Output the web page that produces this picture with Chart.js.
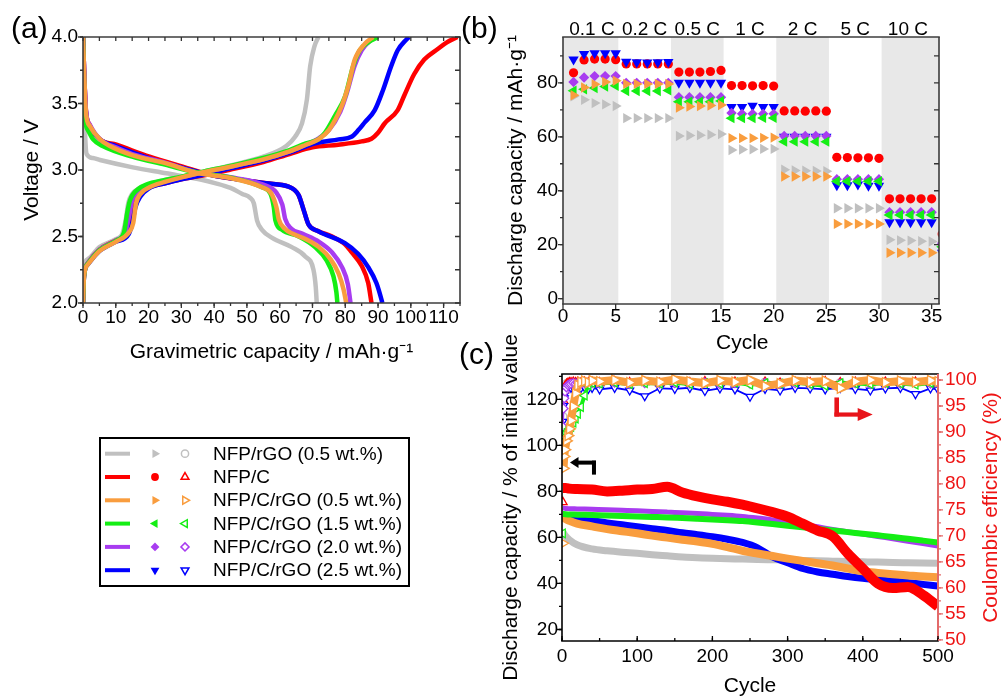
<!DOCTYPE html>
<html lang="en">
<head>
<meta charset="UTF-8">
<title>NFP electrochemistry</title>
<script src="https://cdn.jsdelivr.net/npm/chart.js"></script>
<style>
  html, body { margin: 0; padding: 0; background: #fff; }
  #fig { position: relative; width: 1003px; height: 697px; overflow: hidden; font-family: "Liberation Sans", Arial, sans-serif; color: #000; }
  #fig > canvas { position: absolute; }
  .tag { position: absolute; font-size: 30px; line-height: 30px; }
  #legend { position: absolute; left: 99px; top: 437px; width: 307px; height: 146px; border: 2px solid #000; }
  #legend canvas { position: absolute; left: 0; top: 0; }
  #legend .row { position: absolute; left: 112px; font-size: 19px; line-height: 22px; white-space: nowrap; }
</style>
</head>
<body>
<div id="fig">
  <canvas id="chartA" width="470" height="370" style="left:0;top:0;width:470px;height:370px"></canvas>
  <canvas id="chartB" width="533" height="360" style="left:470px;top:0;width:533px;height:360px"></canvas>
  <canvas id="chartC" width="533" height="390" style="left:470px;top:320px;width:533px;height:390px"></canvas>
  <div class="tag" style="left:11px;top:13px">(a)</div>
  <div class="tag" style="left:461px;top:13px">(b)</div>
  <div class="tag" style="left:459px;top:339px">(c)</div>
  <div id="legend"><canvas id="legendMarks" width="307" height="146"></canvas></div>
</div>

<script>
// ---- series ----
const seriesNames = ['NFP/rGO (0.5 wt.%)', 'NFP/C', 'NFP/C/rGO (0.5 wt.%)', 'NFP/C/rGO (1.5 wt.%)', 'NFP/C/rGO (2.0 wt.%)', 'NFP/C/rGO (2.5 wt.%)'];

// ---- (a) charge / discharge profiles: [capacity mAh/g, voltage V] ----
const chgGray = [[0,2.0],[0.2,2.25],[1.5,2.33],[5,2.42],[10,2.48],[12,2.52],[13,2.62],[13.8,2.75],[15,2.82],[17,2.86],[20,2.89],[25,2.925],[30,2.95],[37,2.99],[45,3.035],[55,3.1],[62,3.18],[64.7,3.25],[66.8,3.35],[68.3,3.53],[69.3,3.78],[70.6,3.93],[71.8,4.0]];
const disGray = [[0,4.0],[0.3,3.6],[0.6,3.3],[1.1,3.12],[3,3.09],[5.2,3.075],[15.2,3.02],[25.4,2.975],[35.5,2.93],[40.5,2.9],[45,2.865],[48.6,2.82],[51,2.79],[52.1,2.75],[53.1,2.62],[54.6,2.55],[57.7,2.49],[63.7,2.42],[67.8,2.35],[70.3,2.25],[71,2.12],[71.3,2.0]];
const chgRed = [[0,2.0],[0.3,2.2],[1.5,2.3],[5,2.4],[10,2.47],[13.5,2.53],[14.5,2.62],[15.5,2.73],[17,2.81],[20,2.865],[25,2.9],[30,2.93],[37,2.96],[44.5,3.0],[55,3.06],[63,3.12],[70,3.17],[77.9,3.19],[85,3.215],[88,3.235],[90,3.28],[92,3.35],[96,3.45],[98,3.56],[101,3.72],[104.1,3.83],[108.2,3.91],[111,3.96],[114.2,4.0]];
const disRed = [[0,4.0],[0.4,3.7],[0.9,3.45],[2,3.34],[5.2,3.23],[10.2,3.19],[20.3,3.1],[30.4,3.025],[39.5,2.96],[50,2.92],[56,2.9],[62.7,2.875],[64.5,2.85],[65.8,2.81],[67.3,2.7],[68.8,2.59],[71.8,2.54],[76,2.5],[80,2.44],[82,2.38],[85,2.28],[87,2.15],[88,2.0]];
const chgOrange = [[0,2.0],[0.3,2.2],[1.5,2.29],[5,2.39],[10,2.46],[14,2.53],[15.3,2.6],[16.2,2.75],[17.5,2.82],[20.3,2.87],[25,2.91],[30,2.945],[37,2.985],[45,3.025],[55,3.08],[63,3.14],[68,3.19],[71.8,3.23],[75,3.3],[78.9,3.48],[80.9,3.63],[82.9,3.83],[86,3.95],[88.5,4.0]];
const disOrange = [[0,4.0],[0.4,3.7],[0.9,3.43],[2.1,3.33],[5.2,3.23],[8.2,3.18],[15.2,3.11],[25.4,3.05],[35.5,2.975],[45,2.94],[54.6,2.87],[57.5,2.82],[59,2.72],[59.7,2.63],[61.5,2.56],[64,2.52],[68,2.48],[72,2.42],[75.5,2.33],[78,2.22],[79.5,2.1],[80.3,2.0]];
const chgGreen = [[0,2.0],[0.3,2.2],[1.6,2.3],[5.2,2.4],[10.2,2.47],[12.5,2.53],[13.5,2.68],[14.3,2.77],[15.3,2.82],[17,2.86],[19.3,2.89],[25,2.925],[30,2.95],[37,2.99],[45,3.03],[55,3.09],[63,3.15],[68,3.2],[71.8,3.23],[73.8,3.28],[76.9,3.41],[79.9,3.55],[82.4,3.78],[84.4,3.9],[87,3.96],[90,4.0]];
const disGreen = [[0,4.0],[0.3,3.7],[0.6,3.4],[1.5,3.3],[3.1,3.23],[6,3.18],[15,3.1],[25,3.04],[35,2.98],[45.5,2.94],[54.6,2.87],[57.2,2.82],[58.2,2.72],[58.7,2.62],[60.7,2.55],[65.8,2.5],[70.8,2.42],[74.3,2.32],[76.4,2.2],[77.3,2.08],[77.6,2.0]];
const chgPurple = [[0,2.0],[0.3,2.2],[1.5,2.3],[5,2.4],[10,2.47],[13,2.54],[14,2.65],[15,2.77],[16.5,2.83],[19,2.875],[25,2.915],[30,2.945],[37,2.985],[45,3.025],[55,3.08],[63,3.14],[68,3.19],[72,3.24],[75,3.3],[78.5,3.44],[80.5,3.58],[82.8,3.78],[85,3.9],[87.5,3.97],[89.5,4.0]];
const disPurple = [[0,4.0],[0.4,3.7],[0.9,3.44],[2.1,3.34],[5.2,3.23],[10,3.17],[15,3.12],[25,3.055],[35,2.98],[45,2.945],[55,2.89],[59,2.83],[60.8,2.74],[61.7,2.63],[63.5,2.56],[67,2.52],[72,2.46],[76,2.38],[79,2.27],[80.8,2.14],[81.6,2.0]];
const chgBlue = [[0,2.0],[0.3,2.2],[1.5,2.29],[5,2.39],[10,2.46],[14,2.52],[15,2.6],[16,2.72],[17.5,2.8],[20,2.86],[25,2.9],[30,2.93],[37,2.965],[44.5,3.01],[55,3.07],[63,3.13],[70.8,3.2],[78,3.23],[81.9,3.25],[84,3.3],[86,3.36],[89,3.45],[91.5,3.6],[94,3.78],[96,3.9],[98.6,3.98],[99.5,4.0]];
const disBlue = [[0,4.0],[0.4,3.7],[0.9,3.44],[2.1,3.33],[5.2,3.23],[10,3.18],[20,3.09],[30,3.02],[39.5,2.96],[50,2.92],[55.7,2.9],[62.7,2.875],[64.5,2.85],[65.8,2.81],[67.3,2.7],[68.8,2.59],[71.8,2.54],[79.9,2.45],[83.9,2.37],[87,2.27],[89.5,2.15],[91,2.03],[91.3,2.0]];

// ---- (b) rate capability, discharge capacity mAh/g per cycle ----
const rateCycles = [1,2,3,4,5,6,7,8,9,10,11,12,13,14,15,16,17,18,19,20,21,22,23,24,25,26,27,28,29,30,31,32,33,34,35,36];
const rateGray   = [75,73.7,72.5,72,71.4,66.9,66.9,66.9,66.9,66.9,60.3,60.5,60.6,60.8,61,55.1,55.3,55.4,55.5,55.5,47.8,47.5,47.4,47.3,47.2,33.5,33.5,33.5,33.5,33.5,21.8,21.6,21.5,21.3,21.2,11.5];
const rateRed    = [83.7,88.5,88.8,88.8,88.6,87,87,87,87,87,84,84,84,84.2,84.6,79,79,78.9,79,78.8,69.6,69.6,69.5,69.6,69.5,52.4,52.3,52.2,52.2,52,37,37,37,37,37,24];
const rateOrange = [75.4,78.3,79.5,80.3,80.8,79.6,79.6,79.6,79.6,79.6,70.8,71.2,71.4,71.6,71.8,59.5,59.5,59.5,59.6,59.7,45.3,45.3,45.3,45.3,45.3,27.7,27.7,27.7,27.7,27.7,17,17,17,17,17,9.2];
const rateGreen  = [77.1,77.6,78.1,78.6,78.9,77,77,77,77,77.2,73,73,73,73,73.3,66.9,66.9,66.9,67,67,58.2,58.2,58.2,58.2,58.2,43.5,43.5,43.5,43.5,43.5,31,31,31,31,31,19.2];
const ratePurple = [80.3,82,82.5,82.5,82.5,80,80,80,80,80,74.7,74.7,74.7,74.7,74.7,68.8,68.5,68.5,68.5,68.5,60.3,60.3,60.3,60.3,60.3,44.3,44.3,44.3,44.3,44.3,32,32,32,32,32,20.5];
const rateBlue   = [88.7,90.7,91,91,91,87.8,87.6,87.5,87.6,87.7,80,80,80,80,80,71,71,71.5,71,71,60,60,60,60,60,42,42,42.3,41.8,41.8,28.3,28.3,28.3,28.3,28.3,17];
const rateLabels = ['0.1 C', '0.2 C', '0.5 C', '1 C', '2 C', '5 C', '10 C'];
const rateBands = [[0, 5.25], [10.25, 15.25], [20.25, 25.25], [30.25, 36]];

// ---- (c) long cycling: retention (% of initial, left axis) ----
const capCycles = [1,5,10,20,40,60,80,100,120,140,160,180,200,220,240,260,280,300,320,340,360,380,400,420,440,460,480,500];
const retGray   = [62.5,60.5,58.9,56.8,55,54.2,53.6,53.1,52.5,52,51.5,51.2,50.9,50.7,50.6,50.4,50.3,50.2,50,49.9,49.7,49.5,49.4,49.3,49.1,49,48.9,48.8];
const retRed    = [81.5,81.5,81.2,81,80.8,80,80.3,80.8,81,82,79.5,77.8,76.5,75.5,74.2,72.6,71,69,66,63,60.5,53,46.5,40,38,38.5,35,30];
const retOrange = [69,68,67.2,66,64.8,63.6,62.7,61.8,60.8,59.9,59,58.2,57.2,55.8,54.2,53,51.9,50.8,49.8,48.8,47.8,46.5,45.3,44.6,44,43.5,43,42.7];
const retGreen  = [70.2,70.1,70,69.9,69.7,69.5,69.3,69.1,68.9,68.7,68.4,68.1,67.8,67.5,67.1,66.5,65.8,65.1,64.4,63.7,63,62.3,61.6,60.9,60.2,59.4,58.6,57.8];
const retPurple = [72.8,72.6,72.5,72.4,72.2,72,71.8,71.6,71.3,71,70.7,70.4,70,69.6,69.1,68.4,67.6,66.6,65.6,64.6,63.5,62.5,61.5,60.4,59.4,58.3,57.3,56.3];
const retBlue   = [68.5,68.2,68,67.7,67.2,66.3,65.5,64.7,63.8,63,62,61.2,60.3,59.2,57.8,55.5,51.5,49,46.5,45,44,43,42.2,41.6,41,40.4,39.6,38.9];

// ---- (c) coulombic efficiency (%, right axis) ----
const ceCycles = [1,2,3,4,6,8,10,12,15,18,21,25,30,35,40,50,70,90,110,130,150,170,190,210,230,250,270,290,310,330,350,370,390,410,430,450,470,490,500];
const ceGray   = [93,97,98.4,99,99.3,99.4,99.5,99.5,99.6,99.5,99.6,99.5,99.6,99.5,99.6,99.5,99.6,99.5,99.6,99.5,99.6,99.5,99.6,99.5,99.6,99.5,99.6,99.5,99.6,99.5,99.6,99.5,99.6,99.5,99.6,99.5,99.6,99.5,99.6];
const ceRed    = [76.5,96,98,98.8,99.2,99.4,99.5,99.5,99.6,99.5,99.6,99.4,99.6,99.5,99.6,99.5,99.7,99.5,99.6,99.4,99.6,99.5,99.7,99.5,99.6,99.5,99.6,99.4,99.6,99.5,99.7,99.5,99.6,99.4,99.6,99.5,99.6,99.5,99.6];
const ceOrange = [68.6,83,85.3,86.6,88.3,89.3,90.6,92.2,94.9,97.4,99,99.6,99.8,99.5,99.9,99.7,100,99.5,99.9,99.6,100.1,99.7,99.4,99.9,99.6,100,98.8,99.3,99.9,99.6,99.8,98.4,99.7,100,99.5,99.8,99.6,99.9,99.7];
const ceGreen  = [70.5,87,88.3,89,89.8,90.2,90.6,91,91.8,92.6,93.5,94.8,97,99,99.4,99.3,99.5,99.2,99.4,99.3,99.5,99.2,99.4,99.3,99.5,99.1,99.4,99.3,99.5,99.2,98.9,99.4,99.3,99.2,99.4,99.3,99.1,99.4,99.3];
const cePurple = [91,94.5,96.5,97.8,98.6,99,99.2,99.3,99.4,99.3,99.4,99.2,99.4,99.3,99.4,99.3,99.5,99.2,99.4,99.3,99.4,99.3,99.5,99.2,99.4,99.3,99.4,99.2,99.4,99.3,99.5,99.3,99.4,99.2,99.4,99.3,99.4,99.3,99.4];
const ceBlue   = [92,95,96.5,97.3,98.3,98.6,98.8,98.5,98.6,98.2,98.5,98.4,98.6,98.3,98.5,98.2,98.5,98,96.9,98.4,98.3,98.5,97.9,98.4,98.2,96.8,98.3,98,98.5,98.4,98.2,98.5,98.3,98,98.4,98.5,97.3,98.4,98.2];

// ---- styles ----
const colors = ['#c0c0c0', '#ff0000', '#f99d3e', '#14ee14', '#a83cf0', '#0000ff'];
const filledMarks = [['triangle', 90, 6], ['circle', 0, 4.6], ['triangle', 90, 6], ['triangle', 270, 6], ['rectRot', 0, 5.2], ['triangle', 180, 6]];
const openMarks = [['circle', 0, 4], ['triangle', 0, 5], ['triangle', 90, 5], ['triangle', 270, 5], ['rectRot', 0, 4.5], ['triangle', 180, 5]];
const ceMarkSize = [4, 5, 5.8, 5, 4.5, 4.6];
const topOrder = [5, 4, 0, 1, 2, 3];          // lower = drawn on top
const bandOrder = [11, 6, 9, 7, 8, 10];
const bandWidth = [7, 10, 8, 6, 5, 7];
const ceLine = [2, 2, 8, 4, 2, 1.8];
const FONT = '"Liberation Sans", Arial, sans-serif';

Chart.defaults.font.family = FONT;
Chart.defaults.font.size = 19;
Chart.defaults.color = '#000';
Chart.defaults.animation = false;
Chart.defaults.events = [];
Chart.defaults.plugins.legend.display = false;
Chart.defaults.plugins.tooltip.enabled = false;

const toXY = pts => pts.map(p => ({x: p[0], y: p[1]}));
const zip = (xs, ys) => xs.map((x, k) => ({x: x, y: ys[k]}));

// frame, mirrored ticks, shaded bands and extra text
function framePlugin(cfg) {
  return {
    id: 'frame',
    beforeDatasetsDraw(chart) {
      if (!cfg.bands) return;
      const {ctx, chartArea: a} = chart;
      const x = chart.scales.x;
      ctx.save();
      ctx.fillStyle = '#e8e8e8';
      cfg.bands.forEach(b => {
        const x0 = Math.max(a.left, x.getPixelForValue(b[0]));
        const x1 = Math.min(a.right, x.getPixelForValue(b[1]));
        ctx.fillRect(x0, a.top, x1 - x0, a.bottom - a.top);
      });
      ctx.restore();
    },
    afterDraw(chart) {
      const {ctx, chartArea: a} = chart;
      ctx.save();
      cfg.sides.forEach(([side, color, w]) => {
        ctx.strokeStyle = color; ctx.lineWidth = w;
        ctx.beginPath();
        if (side === 'top') { ctx.moveTo(a.left - w / 2, a.top); ctx.lineTo(a.right + w / 2, a.top); }
        if (side === 'bottom') { ctx.moveTo(a.left - w / 2, a.bottom); ctx.lineTo(a.right + w / 2, a.bottom); }
        if (side === 'left') { ctx.moveTo(a.left, a.top); ctx.lineTo(a.left, a.bottom); }
        if (side === 'right') { ctx.moveTo(a.right, a.top); ctx.lineTo(a.right, a.bottom); }
        ctx.stroke();
      });
      cfg.marks.forEach(m => {
        const s = chart.scales[m.scale];
        ctx.strokeStyle = m.color || '#333';
        ctx.lineWidth = 1.3;
        [[m.major, m.len], [m.minor, m.len * 0.6]].forEach(([step, len]) => {
          if (!step) return;
          const d = m.out ? len : -len;
          ctx.beginPath();
          for (let v = Math.ceil(s.min / step - 1e-9) * step; v <= s.max + 1e-9; v += step) {
            const p = s.getPixelForValue(v);
            if (m.edge === 'bottom') { ctx.moveTo(p, a.bottom); ctx.lineTo(p, a.bottom + d); }
            else if (m.edge === 'top') { ctx.moveTo(p, a.top); ctx.lineTo(p, a.top - d); }
            else if (m.edge === 'left') { ctx.moveTo(a.left, p); ctx.lineTo(a.left - d, p); }
            else { ctx.moveTo(a.right, p); ctx.lineTo(a.right + d, p); }
          }
          ctx.stroke();
        });
      });
      if (cfg.extra) cfg.extra(chart, ctx, a);
      ctx.restore();
    }
  };
}

function axis(o) {
  return Object.assign({type: 'linear', grid: {display: false, drawTicks: false}, border: {display: false}}, o);
}

// ---------- (a) ----------
const profiles = [[chgGray, disGray], [chgRed, disRed], [chgOrange, disOrange], [chgGreen, disGreen], [chgPurple, disPurple], [chgBlue, disBlue]];
const dsA = [];
profiles.forEach((pair, i) => pair.forEach(curve => dsA.push({
  data: toXY(curve), borderColor: colors[i], borderWidth: 4.5, pointRadius: 0,
  cubicInterpolationMode: 'monotone', fill: false, order: topOrder[i]
})));

new Chart(document.getElementById('chartA'), {
  type: 'line',
  data: {datasets: dsA},
  options: {
    responsive: false,
    layout: {padding: {left: 0, top: 37, right: 10, bottom: 0}},
    scales: {
      x: axis({min: 0, max: 115,
        ticks: {stepSize: 10, includeBounds: false, autoSkip: false, maxRotation: 0, minRotation: 0, padding: 3.6},
        title: {display: true, text: 'Gravimetric capacity / mAh·g⁻¹', font: {size: 21}, padding: {top: 0, bottom: 5.4}},
        afterFit: s => { s.height = 67; }}),
      y: axis({min: 2, max: 4,
        ticks: {stepSize: 0.5, includeBounds: false, padding: 5, callback: v => v.toFixed(1)},
        title: {display: true, text: 'Voltage / V', font: {size: 21}, padding: {top: 20, bottom: 0}},
        afterFit: s => { s.width = 83; }})
    }
  },
  plugins: [framePlugin({
    sides: [['top', '#3c3c3c', 1.6], ['bottom', '#3c3c3c', 1.6], ['left', '#3c3c3c', 1.6], ['right', '#3c3c3c', 1.6]],
    marks: [
      {scale: 'x', edge: 'bottom', out: true, major: 10, minor: 5, len: 5},
      {scale: 'x', edge: 'top', out: false, major: 5, len: 4},
      {scale: 'y', edge: 'left', out: true, major: 0.5, minor: 0.25, len: 5},
      {scale: 'y', edge: 'right', out: false, major: 0.25, len: 5}
    ]
  })]
});

// ---------- (b) ----------
const rateSets = [rateGray, rateRed, rateOrange, rateGreen, ratePurple, rateBlue];
const dsB = rateSets.map((vals, i) => ({
  data: zip(rateCycles, vals), showLine: false,
  pointStyle: filledMarks[i][0], pointRotation: filledMarks[i][1], pointRadius: filledMarks[i][2],
  pointBackgroundColor: colors[i], pointBorderColor: colors[i], pointBorderWidth: 0,
  order: topOrder[i], clip: 0
}));

new Chart(document.getElementById('chartB'), {
  type: 'line',
  data: {datasets: dsB},
  options: {
    responsive: false,
    layout: {padding: {left: 0, top: 37, right: 64, bottom: 0}},
    scales: {
      x: axis({min: 0, max: 35.7,
        ticks: {stepSize: 5, includeBounds: false, autoSkip: false, maxRotation: 0, minRotation: 0, padding: 1.6},
        title: {display: true, text: 'Cycle   ', font: {size: 21}, padding: {top: 0, bottom: 4.4}},
        afterFit: s => { s.height = 56; }}),
      y: axis({min: -2, max: 97,
        ticks: {stepSize: 20, includeBounds: false, padding: 5},
        title: {display: true, text: 'Discharge capacity / mAh·g⁻¹', font: {size: 21}, padding: {top: 33.4, bottom: 0}},
        afterFit: s => { s.width = 93; }})
    }
  },
  plugins: [framePlugin({
    bands: rateBands,
    sides: [['top', '#3c3c3c', 1.6], ['bottom', '#3c3c3c', 1.6], ['left', '#3c3c3c', 1.6], ['right', '#3c3c3c', 1.6]],
    marks: [
      {scale: 'x', edge: 'bottom', out: true, major: 5, len: 5},
      {scale: 'y', edge: 'left', out: true, major: 20, minor: 10, len: 5},
      {scale: 'y', edge: 'right', out: false, major: 10, len: 5}
    ],
    extra(chart, ctx, a) {
      const x = chart.scales.x;
      ctx.fillStyle = '#000';
      ctx.font = '19px ' + FONT;
      ctx.textAlign = 'center';
      ctx.textBaseline = 'middle';
      rateLabels.forEach((t, i) => ctx.fillText(t, x.getPixelForValue(i * 5 + 2.75), a.top - 7));
    }
  })]
});

// ---------- (c) ----------
const retSets = [retGray, retRed, retOrange, retGreen, retPurple, retBlue];
const ceSets = [ceGray, ceRed, ceOrange, ceGreen, cePurple, ceBlue];
const hideFirst = [false, true, true, true, false, false];
const dsC = [];
retSets.forEach((vals, i) => dsC.push({
  data: zip(capCycles, vals), yAxisID: 'y', borderColor: colors[i], borderWidth: bandWidth[i],
  pointRadius: 0, cubicInterpolationMode: 'monotone', order: bandOrder[i], clip: 0
}));
ceSets.forEach((vals, i) => dsC.push({
  data: zip(ceCycles, vals), yAxisID: 'y2', borderColor: colors[i], borderWidth: ceLine[i],
  segment: {borderColor: c => (hideFirst[i] && c.p0DataIndex === 0) ? 'rgba(0,0,0,0)' : undefined},
  pointStyle: openMarks[i][0], pointRotation: openMarks[i][1], pointRadius: ceMarkSize[i],
  pointBackgroundColor: '#fff', pointBorderColor: colors[i], pointBorderWidth: 1.3,
  order: topOrder[i], clip: 0
}));

new Chart(document.getElementById('chartC'), {
  type: 'line',
  data: {datasets: dsC},
  options: {
    responsive: false,
    layout: {padding: {left: 0, top: 54, right: 0, bottom: 0}},
    scales: {
      x: axis({min: 0, max: 500,
        ticks: {stepSize: 100, includeBounds: false, autoSkip: false, maxRotation: 0, minRotation: 0, padding: 4.1},
        title: {display: true, text: 'Cycle', font: {size: 21}, padding: {top: 0, bottom: 11.4}},
        afterFit: s => { s.height = 69; }}),
      y: axis({min: 15, max: 131, position: 'left',
        ticks: {stepSize: 20, includeBounds: false, padding: 4},
        title: {display: true, text: 'Discharge capacity / % of initial value', font: {size: 21}, padding: {top: 28.4, bottom: 0}},
        afterFit: s => { s.width = 92; }}),
      y2: axis({min: 49.8, max: 101.15, position: 'right',
        ticks: {stepSize: 5, includeBounds: false, padding: 7, color: '#ee1414'},
        afterFit: s => { s.width = 65; }})
    }
  },
  plugins: [framePlugin({
    sides: [['top', '#000', 1.6], ['bottom', '#000', 1.6], ['left', '#000', 1.6], ['right', '#e36a6a', 2]],
    marks: [
      {scale: 'x', edge: 'bottom', out: false, major: 100, minor: 50, len: 5, color: '#000'},
      {scale: 'y', edge: 'left', out: true, major: 20, minor: 10, len: 5, color: '#000'},
      {scale: 'y2', edge: 'right', out: true, major: 5, minor: 2.5, len: 5, color: '#e36a6a'}
    ],
    extra(chart, ctx, a) {
      const {x, y, y2} = chart.scales;
      // right axis title, reading bottom to top
      ctx.save();
      ctx.fillStyle = '#ee1414';
      ctx.font = '21px ' + FONT;
      ctx.textAlign = 'center';
      ctx.textBaseline = 'middle';
      ctx.translate(521.7, (a.top + a.bottom) / 2);
      ctx.rotate(-Math.PI / 2);
      ctx.fillText('Coulombic efficiency (%)', 0, 0);
      ctx.restore();
      // black arrow -> left axis
      const tx = x.getPixelForValue(10.6), ty = y.getPixelForValue(92.5);
      ctx.fillStyle = '#000';
      ctx.beginPath(); ctx.moveTo(tx, ty); ctx.lineTo(tx + 8.5, ty - 5.5); ctx.lineTo(tx + 8.5, ty + 5.5); ctx.closePath(); ctx.fill();
      ctx.fillRect(tx + 8, ty - 2, 18, 4);
      ctx.fillRect(tx + 22, ty - 2, 4, 14);
      // red arrow -> right axis
      const cx = x.getPixelForValue(365.3), cy = y2.getPixelForValue(93.37);
      ctx.fillStyle = '#e8141a';
      ctx.fillRect(cx - 2.3, cy - 17, 4.6, 19);
      ctx.fillRect(cx - 2.3, cy - 2, 24, 4.2);
      ctx.beginPath(); ctx.moveTo(cx + 36, cy); ctx.lineTo(cx + 21, cy - 6.5); ctx.lineTo(cx + 21, cy + 6.5); ctx.closePath(); ctx.fill();
    }
  })]
});

// ---------- legend ----------
function drawMark(ctx, style, rot, x, y, r) {
  ctx.beginPath();
  if (style === 'circle') {
    ctx.arc(x, y, r, 0, Math.PI * 2);
  } else if (style === 'triangle') {
    let ang = rot * Math.PI / 180;
    for (let k = 0; k < 3; k++) {
      const px = x + Math.sin(ang) * r, py = y - Math.cos(ang) * r;
      if (k) ctx.lineTo(px, py); else ctx.moveTo(px, py);
      ang += 2 * Math.PI / 3;
    }
  } else {
    ctx.moveTo(x, y - r); ctx.lineTo(x + r, y); ctx.lineTo(x, y + r); ctx.lineTo(x - r, y);
  }
  ctx.closePath();
}

const lg = document.getElementById('legendMarks').getContext('2d');
const legendBox = document.getElementById('legend');
seriesNames.forEach((name, i) => {
  const cy = 14.7 + 23.3 * i;
  lg.strokeStyle = colors[i];
  lg.lineWidth = 4;
  lg.beginPath(); lg.moveTo(4, cy); lg.lineTo(29, cy); lg.stroke();
  drawMark(lg, filledMarks[i][0], filledMarks[i][1], 54, cy, filledMarks[i][2] * 0.85);
  lg.fillStyle = colors[i]; lg.fill();
  drawMark(lg, openMarks[i][0], openMarks[i][1], 84, cy, openMarks[i][2] * 0.9);
  lg.fillStyle = '#fff'; lg.fill();
  lg.lineWidth = 1.5; lg.stroke();
  const row = document.createElement('div');
  row.className = 'row';
  row.style.top = (cy - 11) + 'px';
  row.textContent = name;
  legendBox.appendChild(row);
});
</script>
</body>
</html>
